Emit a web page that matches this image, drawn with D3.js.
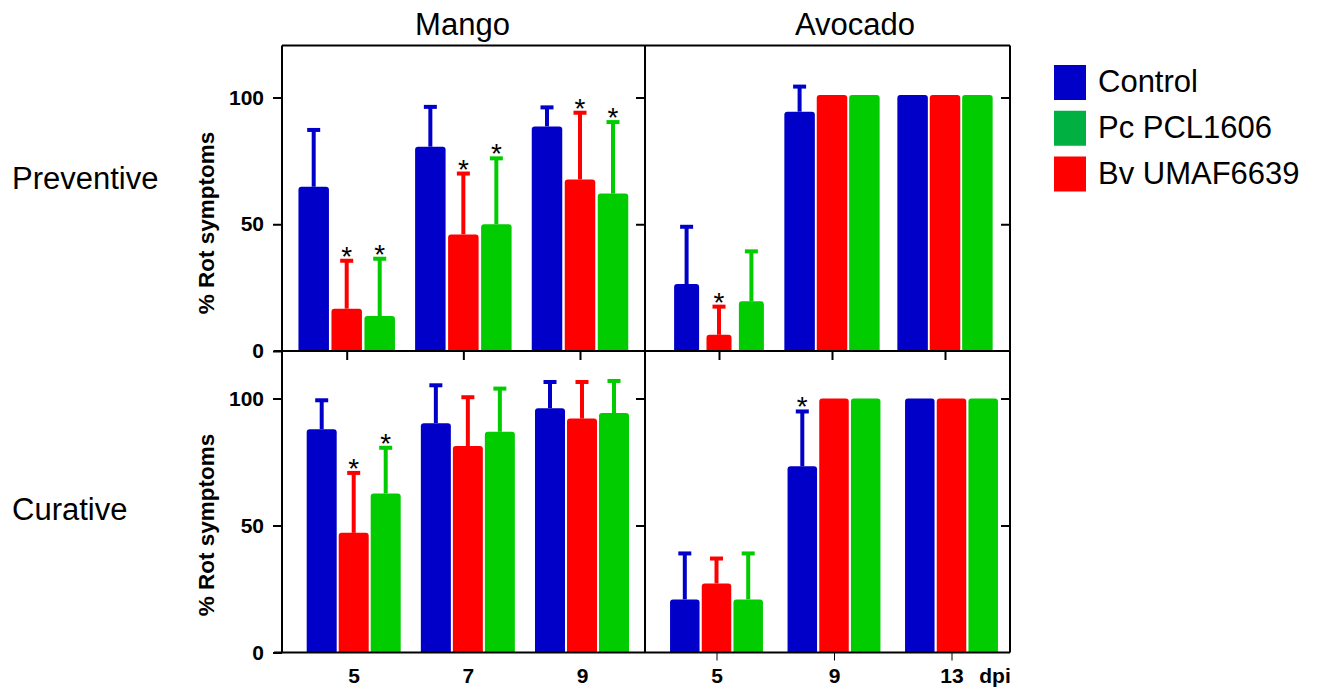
<!DOCTYPE html>
<html>
<head>
<meta charset="utf-8">
<script src="https://cdn.jsdelivr.net/npm/d3@7"></script>
<style>
  html, body { margin: 0; padding: 0; background: #fff; }
  svg { display: block; font-family: "Liberation Sans", Arial, sans-serif; }
</style>
</head>
<body>
<svg id="chart" width="1317" height="689"></svg>
<script>
// Days post inoculation for each fruit
const mangoDays = ["5", "7", "9"];
const avocadoDays = ["5", "9", "13"];

// Bar order inside each group, and legend order
const treatments = ["Control", "Bv UMAF6639", "Pc PCL1606"];
const legendTreatments = ["Control", "Pc PCL1606", "Bv UMAF6639"];
const yTicks = [0, 50, 100];

// Mean % rot per day: [Control, Bv UMAF6639, Pc PCL1606]
const mangoPreventiveMean = [[64.8, 16.7, 13.8], [80.6, 46.0, 50.0], [88.6, 67.7, 62.1]];
const mangoPreventiveSD   = [[22.4, 18.9, 22.6], [15.7, 24.0, 26.0], [7.5, 26.3, 28.2]];
const mangoPreventiveSig  = [[0, 1, 1], [0, 1, 1], [0, 1, 1]];

const avocadoPreventiveMean = [[26.4, 6.4, 19.6], [94.4, 101, 101], [101, 101, 101]];
const avocadoPreventiveSD   = [[22.6, 11.1, 19.7], [9.9, 0, 0], [0, 0, 0]];
const avocadoPreventiveSig  = [[0, 1, 0], [0, 0, 0], [0, 0, 0]];

const mangoCurativeMean = [[87.9, 47.1, 62.6], [90.3, 81.3, 86.9], [96.2, 92.1, 94.3]];
const mangoCurativeSD   = [[11.4, 23.6, 18.0], [14.9, 19.2, 17.0], [10.3, 14.4, 12.6]];
const mangoCurativeSig  = [[0, 1, 1], [0, 0, 0], [0, 0, 0]];

const avocadoCurativeMean = [[20.9, 27.2, 20.9], [73.3, 100, 100], [100, 100, 100]];
const avocadoCurativeSD   = [[18.1, 9.8, 18.1], [21.6, 0, 0], [0, 0, 0]];
const avocadoCurativeSig  = [[0, 0, 0], [1, 0, 0], [0, 0, 0]];

// Colours
const barColor = d3.scaleOrdinal().domain(treatments).range(["#0000c8", "#ff0000", "#00cc00"]);
const legendColor = d3.scaleOrdinal().domain(treatments).range(["#0000c8", "#ff0000", "#00b040"]);

const svg = d3.select("#chart");

// Frame geometry
const L = 282, MID = 645, R = 1010;
const TOP = 45.5, HMID = 351, BOT = 652.5;

const yTop = d3.scaleLinear().domain([0, 100]).range([HMID, 97.5]);
const yBot = d3.scaleLinear().domain([0, 100]).range([BOT, 398.5]);

const panels = [
  { days: mangoDays, mean: mangoPreventiveMean, sd: mangoPreventiveSD, sig: mangoPreventiveSig,
    y: yTop, centers: [346.7, 580], step: 33, widths: [30.5, 30.5, 30.5] },
  { days: avocadoDays, mean: avocadoPreventiveMean, sd: avocadoPreventiveSD, sig: avocadoPreventiveSig,
    y: yTop, centers: [719, 945], step: 32.4, widths: [25, 30.5, 30.5] },
  { days: mangoDays, mean: mangoCurativeMean, sd: mangoCurativeSD, sig: mangoCurativeSig,
    y: yBot, centers: [353.7, 582], step: 32, widths: [30, 30, 30] },
  { days: avocadoDays, mean: avocadoCurativeMean, sd: avocadoCurativeSD, sig: avocadoCurativeSig,
    y: yBot, centers: [716.5, 951.5], step: 31.7, widths: [29.5, 29.5, 29.5] }
];

// Bar with rounded top corners
function barPath(x0, w, yTopPx, yBase) {
  const r = Math.min(3, (yBase - yTopPx) / 2, w / 2);
  return `M${x0},${yBase}V${yTopPx + r}Q${x0},${yTopPx} ${x0 + r},${yTopPx}` +
         `H${x0 + w - r}Q${x0 + w},${yTopPx} ${x0 + w},${yTopPx + r}V${yBase}Z`;
}

panels.forEach(p => {
  p.x = d3.scalePoint().domain(p.days).range(p.centers);
  const g = svg.append("g");
  p.days.forEach((day, di) => {
    treatments.forEach((t, ti) => {
      const cx = p.x(day) + (ti - 1) * p.step;
      const w = p.widths[di];
      const m = p.mean[di][ti];
      const s = p.sd[di][ti];
      const col = barColor(t);
      const y = p.y;
      if (s > 0) {
        g.append("line")
          .attr("x1", cx).attr("x2", cx)
          .attr("y1", y(m)).attr("y2", y(m + s))
          .attr("stroke", col).attr("stroke-width", 4);
        g.append("rect")
          .attr("x", cx - 6.5).attr("y", y(m + s) - 2)
          .attr("width", 13).attr("height", 4)
          .attr("fill", col);
      }
      g.append("path")
        .attr("d", barPath(cx - w / 2, w, y(m), y(0)))
        .attr("fill", col);
      if (p.sig[di][ti]) {
        g.append("text")
          .attr("x", cx).attr("y", y(m + s) + 5)
          .attr("text-anchor", "middle")
          .attr("font-size", 28)
          .attr("fill", "#000")
          .text("*");
      }
    });
  });
});

// Frame lines
const frame = svg.append("g").attr("stroke", "#000").attr("stroke-width", 2);
[[L, TOP, R, TOP], [274, HMID, R, HMID], [274, BOT, R, BOT],
 [L, TOP, L, BOT], [MID, TOP, MID, BOT], [R, TOP, R, BOT]].forEach(d => {
  frame.append("line").attr("x1", d[0]).attr("y1", d[1]).attr("x2", d[2]).attr("y2", d[3]);
});

// Left y axes with labels
function leftAxis(y, x) {
  const a = d3.axisLeft(y).tickValues(yTicks).tickSize(9).tickPadding(9);
  const g = svg.append("g").attr("transform", `translate(${x},0)`).call(a);
  g.select(".domain").remove();
  g.selectAll(".tick line").attr("stroke", "#000").attr("stroke-width", 2);
  g.selectAll(".tick text")
    .attr("font-size", 21).attr("font-weight", "bold")
    .attr("font-family", "Liberation Sans, Arial, sans-serif").attr("fill", "#000");
  return g;
}
leftAxis(yTop, L);
leftAxis(yBot, L);

// Inward ticks on the right edge of each panel
function innerTicks(y, x) {
  const a = d3.axisRight(y).tickValues([50, 100]).tickSize(-9).tickFormat("");
  const g = svg.append("g").attr("transform", `translate(${x},0)`).call(a);
  g.select(".domain").remove();
  g.selectAll(".tick line").attr("stroke", "#000").attr("stroke-width", 2);
}
innerTicks(yTop, MID); innerTicks(yBot, MID);
innerTicks(yTop, R); innerTicks(yBot, R);

// Downward ticks below the preventive panels
[panels[0], panels[1]].forEach(p => {
  const a = d3.axisBottom(p.x).tickSize(9).tickFormat("");
  const g = svg.append("g").attr("transform", `translate(0,${HMID})`).call(a);
  g.select(".domain").remove();
  g.selectAll(".tick line").attr("stroke", "#000").attr("stroke-width", 2);
});

// Bottom axes with day labels
[panels[2], panels[3]].forEach((p, i) => {
  const a = d3.axisBottom(p.x).tickSize(i === 1 ? 8 : 0).tickPadding(i === 1 ? 8 : 16);
  const g = svg.append("g").attr("transform", `translate(0,${BOT})`).call(a);
  g.select(".domain").remove();
  g.selectAll(".tick line").attr("stroke", "#000").attr("stroke-width", 1);
  g.selectAll(".tick text")
    .attr("font-size", 21).attr("font-weight", "bold")
    .attr("font-family", "Liberation Sans, Arial, sans-serif").attr("fill", "#000");
});

svg.append("text")
  .attr("x", 995).attr("y", 683)
  .attr("text-anchor", "middle")
  .attr("font-size", 21).attr("font-weight", "bold")
  .text("dpi");

// Y axis titles
[223, 525].forEach(cy => {
  svg.append("text")
    .attr("transform", `translate(214,${cy}) rotate(-90)`)
    .attr("text-anchor", "middle")
    .attr("font-size", 22.5).attr("font-weight", "bold")
    .text("% Rot symptoms");
});

// Column and row titles
svg.append("text").attr("x", (L + MID) / 2 - 1).attr("y", 35)
  .attr("text-anchor", "middle").attr("font-size", 31).text("Mango");
svg.append("text").attr("x", 855).attr("y", 35)
  .attr("text-anchor", "middle").attr("font-size", 31).text("Avocado");
svg.append("text").attr("x", 12).attr("y", 188.5)
  .attr("font-size", 31).text("Preventive");
svg.append("text").attr("x", 12).attr("y", 519.5)
  .attr("font-size", 31).text("Curative");

// Legend
const legendY = d3.scalePoint().domain(legendTreatments).range([65, 156.5]);
const leg = svg.append("g");
legendTreatments.forEach(t => {
  leg.append("rect")
    .attr("x", 1054).attr("y", legendY(t))
    .attr("width", 32).attr("height", 35)
    .attr("fill", legendColor(t));
  leg.append("text")
    .attr("x", 1098).attr("y", legendY(t) + 27)
    .attr("font-size", 31)
    .text(t);
});
</script>
</body>
</html>
